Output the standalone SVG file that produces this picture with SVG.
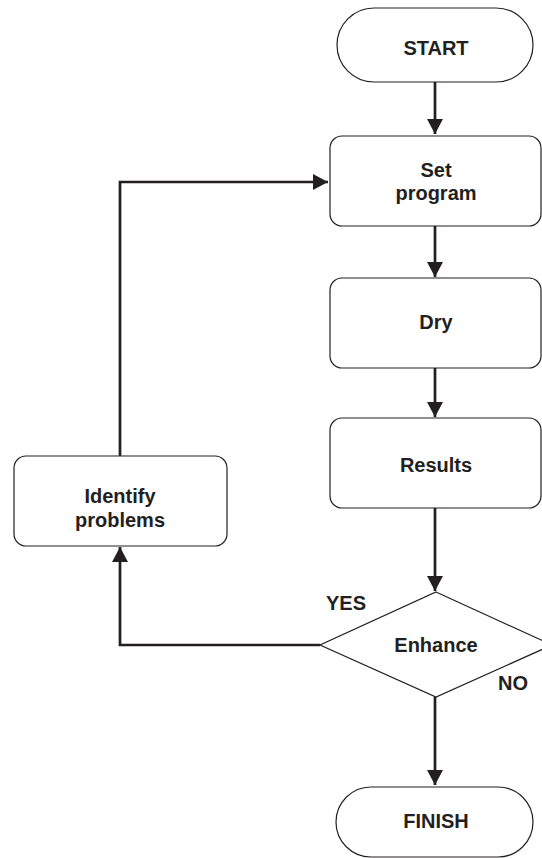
<svg xmlns="http://www.w3.org/2000/svg" width="542" height="858" viewBox="0 0 542 858">
<style>
.node{fill:#fff;stroke:#231f20;stroke-width:1.2}
.t{font-family:"Liberation Sans",Arial,sans-serif;font-weight:bold;font-size:20px;fill:#231f20;text-anchor:middle}
.c{fill:none;stroke:#231f20;stroke-width:2.7}
</style>
<defs>
<marker id="ah" markerUnits="userSpaceOnUse" markerWidth="18" markerHeight="18" viewBox="0 0 18 18" refX="15" refY="9" orient="auto">
<path d="M0,1 L15,9 L0,17 Z" fill="#231f20"/>
</marker>
</defs>
<rect width="542" height="858" fill="#fff"/>
<g id="connectors">
<path class="c" d="M435,82 V134" marker-end="url(#ah)"/>
<path class="c" d="M435,226 V277" marker-end="url(#ah)"/>
<path class="c" d="M435,368 V417" marker-end="url(#ah)"/>
<path class="c" d="M435,508 V591" marker-end="url(#ah)"/>
<path class="c" d="M435,697 V785" marker-end="url(#ah)"/>
<path class="c" d="M320,645 H120 V547" marker-end="url(#ah)"/>
<path class="c" d="M120,456 V182 H328" marker-end="url(#ah)"/>
</g>
<g id="start">
<rect class="node" x="337" y="8" width="196" height="74" rx="37" ry="37"/>
<text class="t" x="436" y="55">START</text>
</g>
<g id="set-program">
<rect class="node" x="330" y="136" width="211" height="90" rx="12"/>
<text class="t" x="436" y="177">Set</text>
<text class="t" x="436" y="200">program</text>
</g>
<g id="dry">
<rect class="node" x="330" y="278" width="211" height="90" rx="12"/>
<text class="t" x="436" y="329">Dry</text>
</g>
<g id="results">
<rect class="node" x="330" y="418" width="211" height="90" rx="12"/>
<text class="t" x="436" y="472">Results</text>
</g>
<g id="enhance">
<polygon class="node" points="436,592 552,645 436,697 320,645"/>
<text class="t" x="436" y="652">Enhance</text>
</g>
<g id="identify-problems">
<rect class="node" x="14" y="456" width="213" height="90" rx="12"/>
<text class="t" x="120" y="503">Identify</text>
<text class="t" x="120" y="527">problems</text>
</g>
<g id="finish">
<rect class="node" x="336" y="787" width="197" height="70" rx="35" ry="35"/>
<text class="t" x="436" y="828">FINISH</text>
</g>
<g id="labels">
<text class="t" x="346" y="610">YES</text>
<text class="t" x="513" y="690">NO</text>
</g>
</svg>
